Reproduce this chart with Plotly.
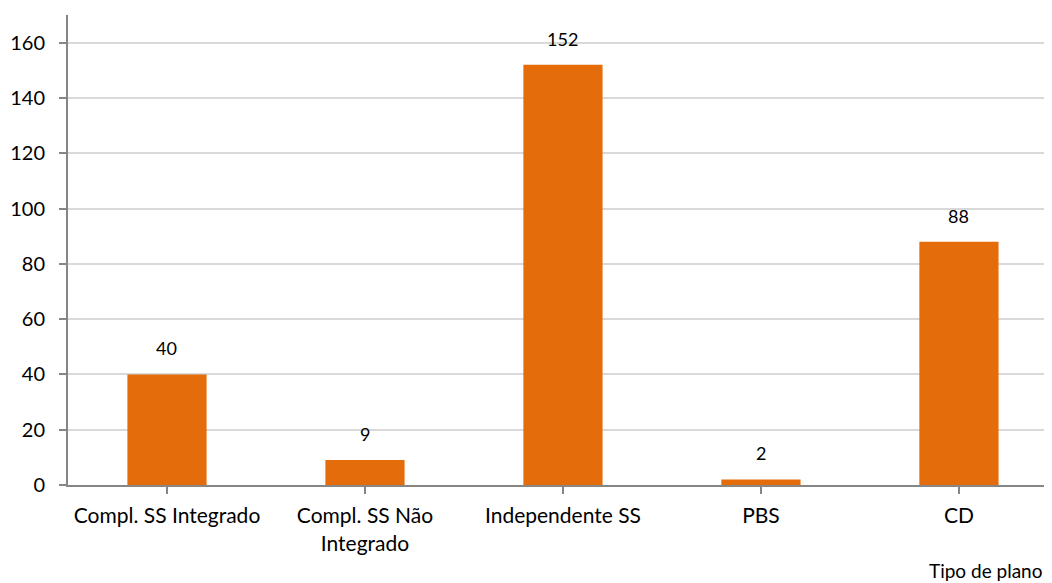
import plotly.graph_objects as go

categories = ["Compl. SS Integrado", "Compl. SS Não<br>Integrado", "Independente SS", "PBS", "CD"]
values = [40, 9, 152, 2, 88]
y_ticks = [0, 20, 40, 60, 80, 100, 120, 140, 160]

FONT = "Lato"
fig = go.Figure()
fig.add_trace(go.Bar(
    x=list(range(len(categories))), y=values,
    marker=dict(color="#E46C0A", line=dict(width=0)),
    width=0.4,
))
for i, v in enumerate(values):
    fig.add_annotation(x=i, y=v, text=str(v), showarrow=False, yanchor="bottom",
                       yshift=13, font=dict(family=FONT, size=18, color="#000"))
fig.add_annotation(xref="paper", yref="paper", x=1, y=0, xanchor="right", yanchor="middle",
                   xshift=-7, yshift=-85, text="Tipo de plano", showarrow=False,
                   font=dict(family=FONT, size=19, color="#000"))

fig.update_layout(
    width=1044, height=575,
    margin=dict(l=60, r=0, t=7, b=98),
    plot_bgcolor="white", paper_bgcolor="white",
    showlegend=False,
    font=dict(family=FONT, size=20, color="#000"),
    xaxis=dict(
        range=[-0.5, 4.47],
        tickmode="array", tickvals=list(range(len(categories))), ticktext=categories,
        tickson="boundaries", ticks="outside", ticklen=7, tickcolor="#868686", tickwidth=2,
        showline=True, linecolor="#868686", linewidth=2,
        showgrid=False, zeroline=False, ticklabelstandoff=4,
        tickfont=dict(family=FONT, size=21, color="#000"),
    ),
    yaxis=dict(
        range=[0, 170],
        tickmode="array", tickvals=y_ticks,
        ticks="outside", ticklen=7, tickcolor="#868686", tickwidth=2,
        showline=True, linecolor="#868686", linewidth=2,
        showgrid=True, gridcolor="#D9D9D9", gridwidth=1.5,
        zeroline=False, ticklabelstandoff=10,
        tickfont=dict(family=FONT, size=20, color="#000"),
    ),
)
fig.write_html("out.html")
